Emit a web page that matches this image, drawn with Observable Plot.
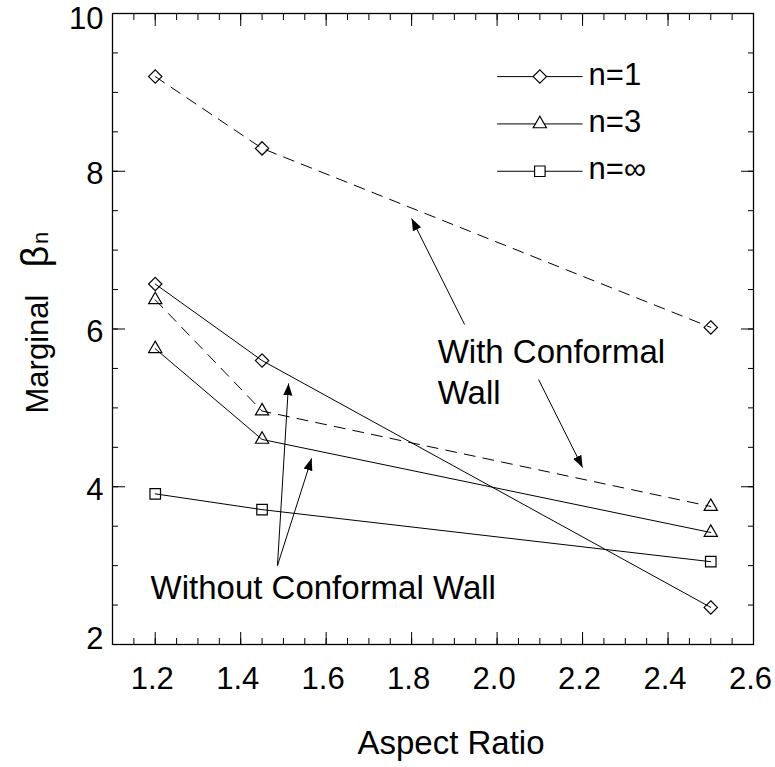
<!DOCTYPE html>
<html>
<head>
<meta charset="utf-8">
<script src="https://cdn.jsdelivr.net/npm/d3@7"></script>
<script src="https://cdn.jsdelivr.net/npm/@observablehq/plot@0.6"></script>
<style>
  html, body { margin: 0; padding: 0; background: #fff; }
</style>
</head>
<body>
<div id="chart"></div>
<script>
// ---------- data ----------
const aspectRatios = [1.2, 1.45, 2.5];
const n1With      = [9.20, 8.29, 6.02];
const n1Without   = [6.57, 5.60, 2.47];
const n3With      = [6.37, 4.96, 3.75];
const n3Without   = [5.75, 4.60, 3.42];
const nInfWithout = [3.91, 3.71, 3.05];

const xMajorTicks = [1.2, 1.4, 1.6, 1.8, 2.0, 2.2, 2.4, 2.6];
const xMinorTicks = d3.range(22, 53).map(i => i / 20);
const yMajorTicks = [2, 4, 6, 8, 10];
const yMinorTicks = d3.range(4, 21).map(i => i / 2);

const legendLabels = ["n=1", "n=3", "n=\u221E"];
const annotationTexts = ["With Conformal", "Wall", "Without Conformal Wall"];

// ---------- layout (data-space positions of annotations / legend) ----------
const legendRowsY = [9.2, 8.6, 8.0];
const legendLine = [2.0, 2.2];
const legendMarkX = 2.1;
const legendTextX = 2.214;
const annotationX = [1.861, 1.861, 1.189];
const annotationY = [5.563, 5.055, 2.583];
const arrowTail = [[1.924, 6.057], [2.097, 5.36], [1.486, 3.00], [1.486, 3.00]];
const arrowTip  = [[1.800, 7.40], [2.200, 4.244], [1.512, 5.31], [1.566, 4.36]];

// ---------- tables ----------
const seriesDefs = [
  {key: "n1w",  values: n1With,      symbol: "diamond2",  dashed: true},
  {key: "n1o",  values: n1Without,   symbol: "diamond2",  dashed: false},
  {key: "n3w",  values: n3With,      symbol: "triangle2", dashed: true},
  {key: "n3o",  values: n3Without,   symbol: "triangle2", dashed: false},
  {key: "nio",  values: nInfWithout, symbol: "square2",   dashed: false}
];
const rows = seriesDefs.flatMap(s => s.values.map((v, i) => ({key: s.key, x: aspectRatios[i], y: v, symbol: s.symbol, dashed: s.dashed})));
const legendSymbols = ["diamond2", "triangle2", "square2"];
const legend = legendLabels.map((t, i) => ({label: t, y: legendRowsY[i], symbol: legendSymbols[i]}));
const annotations = annotationTexts.map((t, i) => ({text: t, x: annotationX[i], y: annotationY[i]}));
const arrows = arrowTail.map((t, i) => ({x1: t[0], y1: t[1], x2: arrowTip[i][0], y2: arrowTip[i][1]}));

const symbolR = {diamond2: 6.0, triangle2: 6.3, square2: 6.7};
const FONT = "'Liberation Sans', Arial, Helvetica, sans-serif";

function dotsFor(data) {
  return legendSymbols.map(sym => Plot.dot(data.filter(d => d.symbol === sym), {
    x: "x", y: "y", symbol: sym, r: symbolR[sym], stroke: "black", strokeWidth: 1.2, fill: "none"
  }));
}

const chart = Plot.plot({
  width: 775,
  height: 767,
  marginLeft: 112,
  marginRight: 22,
  marginTop: 13,
  marginBottom: 123,
  style: {fontFamily: FONT, fontSize: "31px", color: "black", background: "white"},
  x: {domain: [1.1, 2.6], axis: null},
  y: {domain: [2, 10], axis: null},
  marks: [
    // ticks on all four sides, pointing inward
    Plot.axisX(xMinorTicks, {anchor: "bottom", tickSize: -6, tickFormat: () => "", label: null}),
    Plot.axisX(xMajorTicks, {anchor: "bottom", tickSize: -12, tickFormat: () => "", label: null}),
    Plot.axisX(xMinorTicks, {anchor: "top", tickSize: -6, tickFormat: () => "", label: null}),
    Plot.axisX(xMajorTicks, {anchor: "top", tickSize: -12, tickFormat: () => "", label: null}),
    Plot.axisY(yMinorTicks, {anchor: "left", tickSize: -6, tickFormat: () => "", label: null}),
    Plot.axisY(yMajorTicks, {anchor: "left", tickSize: -13, tickFormat: () => "", label: null}),
    Plot.axisY(yMinorTicks, {anchor: "right", tickSize: -6, tickFormat: () => "", label: null}),
    Plot.axisY(yMajorTicks, {anchor: "right", tickSize: -13, tickFormat: () => "", label: null}),
    // tick labels
    Plot.axisX(xMajorTicks, {anchor: "bottom", tickSize: 0, tickPadding: 22, dx: -3, fontSize: 31,
      tickFormat: d => d.toFixed(1), label: null}),
    Plot.axisY(yMajorTicks.filter(v => v > 2 && v < 10), {anchor: "left", tickSize: 0, tickPadding: 9, dy: 3, fontSize: 31,
      tickFormat: d => String(d), label: null}),
    Plot.axisY(yMajorTicks.filter(v => v >= 10), {anchor: "left", tickSize: 0, tickPadding: 9, dy: 5.5, fontSize: 31,
      tickFormat: d => String(d), label: null}),
    Plot.axisY(yMajorTicks.filter(v => v <= 2), {anchor: "left", tickSize: 0, tickPadding: 9, dy: -5, fontSize: 31,
      tickFormat: d => String(d), label: null}),
    Plot.frame({stroke: "black", strokeWidth: 1.3}),
    // series lines
    Plot.line(rows.filter(d => d.dashed), {x: "x", y: "y", z: "key", stroke: "black", strokeWidth: 1, strokeDasharray: "11,8"}),
    Plot.line(rows.filter(d => !d.dashed), {x: "x", y: "y", z: "key", stroke: "black", strokeWidth: 1}),
    ...dotsFor(rows),
    // legend
    Plot.link(legend, {x1: () => legendLine[0], x2: () => legendLine[1], y1: "y", y2: "y", stroke: "black", strokeWidth: 1}),
    ...legendSymbols.map(sym => Plot.dot(legend.filter(d => d.symbol === sym), {
      x: () => legendMarkX, y: "y", symbol: sym, r: symbolR[sym], stroke: "black", strokeWidth: 1.2, fill: "white"
    })),
    Plot.text(legend, {x: () => legendTextX, y: "y", text: "label", textAnchor: "start", lineAnchor: "middle", dy: -2, fontSize: 31, fill: "black"}),
    // annotations
    Plot.link(arrows, {x1: "x1", y1: "y1", x2: "x2", y2: "y2", stroke: "black", strokeWidth: 1, markerEnd: "arrow"}),
    Plot.text(annotations, {x: "x", y: "y", text: "text", textAnchor: "start", lineAnchor: "bottom", fontSize: 33, fill: "black"}),
    // axis titles
    Plot.text(["Aspect Ratio"], {frameAnchor: "bottom", text: d => d, textAnchor: "middle", lineAnchor: "bottom", dx: 18, dy: 109, fontSize: 33, fill: "black"}),
    Plot.text(["Marginal"], {frameAnchor: "left", text: d => d, rotate: -90, textAnchor: "start", lineAnchor: "bottom", dx: -65, dy: 84.5, fontSize: 31, fill: "black"}),
    Plot.text(["\u03B2"], {frameAnchor: "left", text: d => d, rotate: -90, textAnchor: "start", lineAnchor: "bottom", dx: -65, dy: -61.5, fontSize: 38, fill: "black"}),
    Plot.text(["n"], {frameAnchor: "left", text: d => d, rotate: -90, textAnchor: "start", lineAnchor: "bottom", dx: -65, dy: -85, fontSize: 22, fill: "black"})
  ]
});

// filled arrowheads
d3.select(chart).selectAll("marker")
  .attr("fill", "black").attr("stroke", "none")
  .attr("markerWidth", 24).attr("markerHeight", 24)
  .select("path").attr("d", "M0,0L-5,-1.9L-5,1.9Z");

document.getElementById("chart").appendChild(chart);
</script>
</body>
</html>
